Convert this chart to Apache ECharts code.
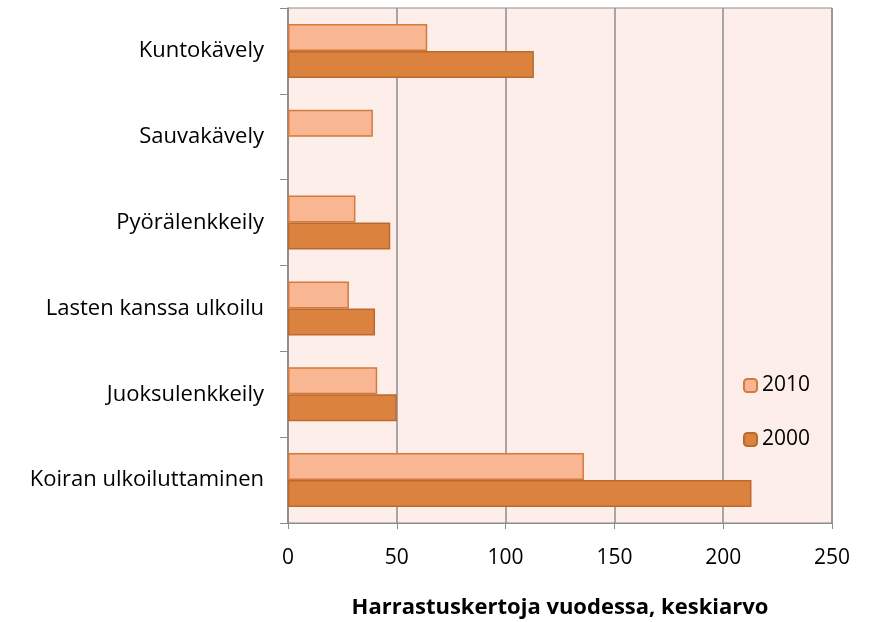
<!DOCTYPE html>
<html>
<head>
    <meta charset="utf-8" />
    <title>Harrastuskertoja vuodessa</title>
    <script src="https://cdn.jsdelivr.net/npm/echarts@6/dist/echarts.min.js"></script>
    <style>
        html, body { margin: 0; padding: 0; background: #fff; }
    </style>
</head>
<body>
    <div id="main" style="width: 872px;height:622px;"></div>
    <script type="text/javascript">
        // categories listed bottom -> top (ECharts category y axis runs upward)
        var categories = ['Koiran ulkoiluttaminen', 'Juoksulenkkeily', 'Lasten kanssa ulkoilu', 'Pyörälenkkeily', 'Sauvakävely', 'Kuntokävely'];
        var values2010 = [136, 41, 28, 31, 39, 64];
        var values2000 = [213, 50, 40, 47, null, 113];
        var xTicks = [0, 50, 100, 150, 200, 250];

        var myChart = echarts.init(document.getElementById('main'));
        var font = '"Open Sans", "Noto Sans", sans-serif';

        var option = {
            animation: false,
            textStyle: { fontFamily: font },
            grid: {
                left: 288,
                right: 40,
                top: 8,
                bottom: 99,
                outerBoundsMode: 'none',
                containLabel: false,
                show: true,
                backgroundColor: '#fdeee9',
                borderColor: '#8c8c8c',
                borderWidth: 1
            },
            legend: {
                orient: 'vertical',
                left: 738,
                top: 370,
                itemWidth: 13,
                itemHeight: 13,
                itemGap: 33,
                data: ['2010', '2000'],
                textStyle: { fontSize: 21, color: '#000', fontFamily: font }
            },
            xAxis: {
                type: 'value',
                min: 0,
                max: 250,
                interval: 50,
                name: 'Harrastuskertoja vuodessa, keskiarvo',
                nameLocation: 'middle',
                nameGap: 74,
                nameTextStyle: { fontSize: 22, fontWeight: 'bold', color: '#000', fontFamily: font },
                axisLine: { show: true, lineStyle: { color: '#8c8c8c', width: 1 } },
                axisTick: { show: true, length: 6, lineStyle: { color: '#8c8c8c' } },
                axisLabel: {
                    fontSize: 21, color: '#000', margin: 25,
                    formatter: function (v) { return xTicks.indexOf(v) >= 0 ? String(v) : ''; }
                },
                splitLine: { show: true, lineStyle: { color: '#8c8c8c', width: 1.5 } }
            },
            yAxis: {
                type: 'category',
                data: categories,
                axisLine: { show: true, lineStyle: { color: '#8c8c8c', width: 1.5 } },
                axisTick: { show: true, length: 8, lineStyle: { color: '#8c8c8c' } },
                axisLabel: { fontSize: 22, color: '#000', margin: 24 },
                splitLine: { show: false }
            },
            series: [
                {
                    name: '2010',
                    type: 'bar',
                    data: values2010,
                    barWidth: 27,
                    barGap: '0%',
                    itemStyle: { color: '#f9b692', borderColor: '#d47a3c', borderWidth: 1.5 }
                },
                {
                    name: '2000',
                    type: 'bar',
                    data: values2000,
                    barWidth: 27,
                    barGap: '0%',
                    itemStyle: { color: '#db823f', borderColor: '#bb6a2e', borderWidth: 1.5 }
                }
            ]
        };
        myChart.setOption(option);
    </script>
</body>
</html>
